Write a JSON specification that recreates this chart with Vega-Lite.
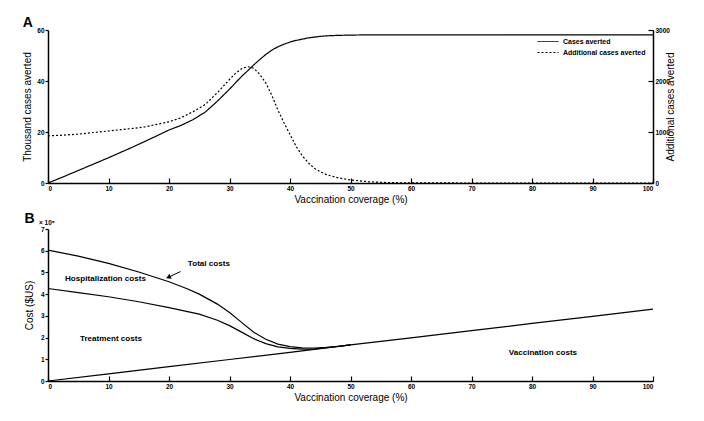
{
  "$schema": "https://vega.github.io/schema/vega-lite/v6.json",
  "background": "white",
  "padding": {"left": 22, "top": 16, "right": 18, "bottom": 10},
  "spacing": 46,
  "bounds": "flush",
  "config": {
    "view": {"stroke": null},
    "font": "Liberation Sans",
    "axis": {
      "grid": false,
      "domainColor": "black",
      "domainWidth": 1.5,
      "tickColor": "black",
      "tickWidth": 1.2,
      "labelColor": "black",
      "labelFont": "Liberation Sans",
      "labelFontWeight": "bold",
      "labelFontSize": 6.5,
      "titleColor": "black",
      "titleFont": "Liberation Sans",
      "titleFontWeight": "normal",
      "titleFontSize": 10
    },
    "legend": {
      "orient": "none",
      "title": null,
      "symbolType": "stroke",
      "symbolSize": 441,
      "symbolStrokeWidth": 1,
      "symbolStrokeColor": "black",
      "labelFont": "Liberation Sans",
      "labelFontWeight": "bold",
      "labelFontSize": 7,
      "labelColor": "black",
      "labelOffset": 4,
      "padding": 0
    }
  },
  "datasets": {
    "a": [
      {"coverage": 0, "cases": 0, "additional": 925},
      {"coverage": 2, "cases": 1.9, "additional": 935},
      {"coverage": 4, "cases": 3.9, "additional": 950},
      {"coverage": 6, "cases": 5.9, "additional": 970},
      {"coverage": 8, "cases": 7.9, "additional": 995},
      {"coverage": 10, "cases": 9.9, "additional": 1020},
      {"coverage": 12, "cases": 12, "additional": 1045},
      {"coverage": 14, "cases": 14.1, "additional": 1070},
      {"coverage": 16, "cases": 16.3, "additional": 1100},
      {"coverage": 18, "cases": 18.5, "additional": 1150},
      {"coverage": 20, "cases": 20.8, "additional": 1200},
      {"coverage": 22, "cases": 22.6, "additional": 1280},
      {"coverage": 24, "cases": 24.9, "additional": 1400},
      {"coverage": 26, "cases": 27.8, "additional": 1540},
      {"coverage": 28, "cases": 32.1, "additional": 1771},
      {"coverage": 30, "cases": 36.8, "additional": 2030},
      {"coverage": 31, "cases": 39.3, "additional": 2150},
      {"coverage": 32, "cases": 41.8, "additional": 2240},
      {"coverage": 33, "cases": 44.0, "additional": 2280},
      {"coverage": 34, "cases": 46.3, "additional": 2250},
      {"coverage": 35, "cases": 48.4, "additional": 2131},
      {"coverage": 36, "cases": 50.4, "additional": 1960},
      {"coverage": 37, "cases": 52.1, "additional": 1720},
      {"coverage": 38, "cases": 53.4, "additional": 1430},
      {"coverage": 39, "cases": 54.4, "additional": 1182},
      {"coverage": 40, "cases": 55.3, "additional": 950},
      {"coverage": 41, "cases": 55.9, "additional": 720},
      {"coverage": 42, "cases": 56.4, "additional": 540},
      {"coverage": 43, "cases": 56.9, "additional": 400},
      {"coverage": 44, "cases": 57.2, "additional": 290},
      {"coverage": 45, "cases": 57.5, "additional": 220},
      {"coverage": 46, "cases": 57.7, "additional": 165},
      {"coverage": 48, "cases": 57.9, "additional": 100},
      {"coverage": 50, "cases": 58, "additional": 59},
      {"coverage": 53, "cases": 58.1, "additional": 25},
      {"coverage": 56, "cases": 58.1, "additional": 8},
      {"coverage": 60, "cases": 58.1, "additional": 2},
      {"coverage": 70, "cases": 58.1, "additional": 0},
      {"coverage": 80, "cases": 58.1, "additional": 0},
      {"coverage": 90, "cases": 58.1, "additional": 0},
      {"coverage": 100, "cases": 58.1, "additional": 0}
    ],
    "b": [
      {"series": "Total", "coverage": 0, "cost": 6.03},
      {"series": "Total", "coverage": 5, "cost": 5.75},
      {"series": "Total", "coverage": 10, "cost": 5.42},
      {"series": "Total", "coverage": 15, "cost": 5.02},
      {"series": "Total", "coverage": 20, "cost": 4.57},
      {"series": "Total", "coverage": 23, "cost": 4.25},
      {"series": "Total", "coverage": 25, "cost": 4.0},
      {"series": "Total", "coverage": 28, "cost": 3.54},
      {"series": "Total", "coverage": 30, "cost": 3.15},
      {"series": "Total", "coverage": 32, "cost": 2.7},
      {"series": "Total", "coverage": 34, "cost": 2.25},
      {"series": "Total", "coverage": 36, "cost": 1.92},
      {"series": "Total", "coverage": 38, "cost": 1.7},
      {"series": "Total", "coverage": 40, "cost": 1.58},
      {"series": "Total", "coverage": 42, "cost": 1.53},
      {"series": "Total", "coverage": 44, "cost": 1.52},
      {"series": "Total", "coverage": 46, "cost": 1.55},
      {"series": "Total", "coverage": 48, "cost": 1.6},
      {"series": "Total", "coverage": 50, "cost": 1.66},
      {"series": "Treatment", "coverage": 0, "cost": 4.26},
      {"series": "Treatment", "coverage": 5, "cost": 4.07},
      {"series": "Treatment", "coverage": 10, "cost": 3.88},
      {"series": "Treatment", "coverage": 15, "cost": 3.65},
      {"series": "Treatment", "coverage": 20, "cost": 3.38},
      {"series": "Treatment", "coverage": 25, "cost": 3.08},
      {"series": "Treatment", "coverage": 28, "cost": 2.8},
      {"series": "Treatment", "coverage": 30, "cost": 2.55},
      {"series": "Treatment", "coverage": 32, "cost": 2.25},
      {"series": "Treatment", "coverage": 34, "cost": 1.95},
      {"series": "Treatment", "coverage": 36, "cost": 1.72},
      {"series": "Treatment", "coverage": 38, "cost": 1.57},
      {"series": "Treatment", "coverage": 40, "cost": 1.5},
      {"series": "Treatment", "coverage": 42, "cost": 1.47},
      {"series": "Treatment", "coverage": 44, "cost": 1.47},
      {"series": "Treatment", "coverage": 46, "cost": 1.53},
      {"series": "Treatment", "coverage": 48, "cost": 1.59},
      {"series": "Treatment", "coverage": 50, "cost": 1.66},
      {"series": "Vaccination", "coverage": 0, "cost": 0},
      {"series": "Vaccination", "coverage": 10, "cost": 0.33},
      {"series": "Vaccination", "coverage": 20, "cost": 0.66},
      {"series": "Vaccination", "coverage": 30, "cost": 0.99},
      {"series": "Vaccination", "coverage": 40, "cost": 1.32},
      {"series": "Vaccination", "coverage": 50, "cost": 1.66},
      {"series": "Vaccination", "coverage": 60, "cost": 1.99},
      {"series": "Vaccination", "coverage": 70, "cost": 2.32},
      {"series": "Vaccination", "coverage": 80, "cost": 2.65},
      {"series": "Vaccination", "coverage": 90, "cost": 2.98},
      {"series": "Vaccination", "coverage": 100, "cost": 3.31}
    ],
    "labels": [
      {"coverage": 26.6, "cost": 5.39, "label": "Total costs"},
      {"coverage": 9.5, "cost": 4.7, "label": "Hospitalization costs"},
      {"coverage": 10.4, "cost": 1.94, "label": "Treatment costs"},
      {"coverage": 81.8, "cost": 1.29, "label": "Vaccination costs"}
    ],
    "arrow": [
      {"x1": 21.9, "y1": 5.04, "x2": 19.9, "y2": 4.78}
    ],
    "arrowhead": [
      {"coverage": 19.9, "cost": 4.78}
    ],
    "exponent": [
      {"coverage": 0, "cost": 7, "label": "× 10⁸"}
    ]
  },
  "vconcat": [
    {
      "width": 605,
      "height": 153,
      "title": {"text": "A", "anchor": "start", "fontSize": 14, "fontWeight": "bold", "font": "Liberation Sans", "color": "black", "offset": 2, "dy": 5},
      "data": {"name": "a"},
      "encoding": {
        "x": {
          "field": "coverage", "type": "quantitative",
          "scale": {"domain": [0, 100], "nice": false},
          "axis": {"title": "Vaccination coverage (%)", "values": [0, 10, 20, 30, 40, 50, 60, 70, 80, 90, 100], "tickSize": -5, "labelPadding": 7, "titlePadding": 3}
        }
      },
      "layer": [
        {
          "mark": {"type": "line", "color": "black", "strokeWidth": 1.2},
          "encoding": {
            "y": {"field": "cases", "type": "quantitative", "scale": {"domain": [0, 60], "nice": false},
              "axis": {"title": "Thousand cases averted", "values": [0, 20, 40, 60], "tickSize": 3, "labelPadding": 1, "titlePadding": 4}},
            "strokeDash": {
              "datum": "Cases averted", "type": "nominal",
              "scale": {"domain": ["Cases averted"], "range": [[1, 0]]},
              "legend": {"legendX": 489, "legendY": 0.5}
            }
          }
        },
        {
          "mark": {"type": "line", "color": "black", "strokeWidth": 1.2},
          "encoding": {
            "y": {"field": "additional", "type": "quantitative", "scale": {"domain": [0, 3000], "nice": false},
              "axis": {"orient": "right", "format": "d", "title": "Additional cases averted", "values": [0, 1000, 2000, 3000], "tickSize": -5, "labelPadding": 7, "titlePadding": 6, "titleAngle": 270}},
            "strokeDash": {
              "datum": "Additional cases averted", "type": "nominal",
              "scale": {"domain": ["Additional cases averted"], "range": [[2, 2]]},
              "legend": {"legendX": 489, "legendY": 11.5}
            }
          }
        }
      ],
      "resolve": {"scale": {"y": "independent", "strokeDash": "independent"}, "legend": {"strokeDash": "independent"}}
    },
    {
      "width": 605,
      "height": 152,
      "title": {"text": "B", "anchor": "start", "fontSize": 14, "fontWeight": "bold", "font": "Liberation Sans", "color": "black", "offset": 2, "dy": 8},
      "encoding": {
        "x": {
          "field": "coverage", "type": "quantitative",
          "scale": {"domain": [0, 100], "nice": false},
          "axis": {"title": "Vaccination coverage (%)", "values": [0, 10, 20, 30, 40, 50, 60, 70, 80, 90, 100], "tickSize": -5, "labelPadding": 7, "titlePadding": 3}
        },
        "y": {
          "field": "cost", "type": "quantitative",
          "scale": {"domain": [0, 7], "nice": false},
          "axis": {"title": "Cost ($US)", "values": [0, 1, 2, 3, 4, 5, 6, 7], "tickSize": 3, "labelPadding": 1, "titlePadding": 6}
        }
      },
      "layer": [
        {
          "data": {"name": "b"},
          "mark": {"type": "line", "color": "black", "strokeWidth": 1.2},
          "encoding": {"detail": {"field": "series"}}
        },
        {
          "data": {"name": "labels"},
          "mark": {"type": "text", "font": "Liberation Sans", "fontWeight": "bold", "fontSize": 8.1, "color": "black"},
          "encoding": {"text": {"field": "label"}}
        },
        {
          "data": {"name": "arrow"},
          "mark": {"type": "rule", "color": "black", "strokeWidth": 1},
          "encoding": {
            "x": {"field": "x1", "type": "quantitative"},
            "y": {"field": "y1", "type": "quantitative"},
            "x2": {"field": "x2"},
            "y2": {"field": "y2"}
          }
        },
        {
          "data": {"name": "arrowhead"},
          "mark": {"type": "point", "shape": "triangle-up", "filled": true, "color": "black", "opacity": 1, "size": 30, "angle": 245},
          "encoding": {}
        },
        {
          "data": {"name": "exponent"},
          "mark": {"type": "text", "align": "left", "baseline": "bottom", "dx": -9, "dy": -3, "font": "Liberation Sans", "fontWeight": "bold", "fontSize": 6.5, "color": "black"},
          "encoding": {"text": {"field": "label"}}
        }
      ]
    }
  ]
}
